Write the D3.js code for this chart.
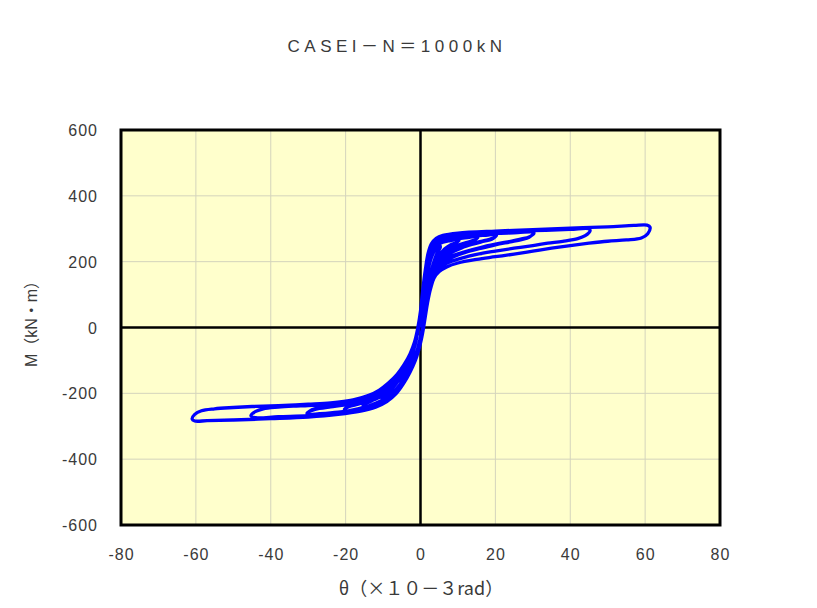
<!DOCTYPE html>
<html>
<head>
<meta charset="utf-8">
<script src="https://cdn.jsdelivr.net/npm/d3@7/dist/d3.min.js"></script>
<style>
  body { margin: 0; background: #fff; }
  svg { display: block; }
</style>
</head>
<body>
<svg id="chart" width="817" height="608"></svg>
<script>
// Moment–rotation hysteresis, one array per loading cycle: [θ (×10^-3 rad), M (kN·m)]
const cycle05 = [[0,0],[0.6,60],[1.2,115],[1.9,165],[2.7,205],[3.7,232],[5,250],
  [5.3,245],[4.6,228],[3.8,205],[2.9,170],[2.1,125],[1.4,75],[0.8,25],[0.4,-10],
  [-0.3,-45],[-1,-75],[-2,-105],[-3,-130],[-4,-153],[-5,-170],
  [-5.3,-162],[-4.6,-145],[-3.8,-127],[-2.8,-100],[-1.8,-66],[-1,-30],[-0.5,0]];
const cycle05b = [[0,40],[0.6,98],[1.3,150],[2,192],[2.9,222],[4,240],[5,248],
  [5.3,244],[4.6,230],[3.8,208],[2.9,173],[2.1,128],[1.4,78],[0.8,28],[0.4,-8],
  [-0.3,-43],[-1,-73],[-2,-103],[-3,-128],[-4,-150],[-5,-166],
  [-5.3,-160],[-4.6,-146],[-3.8,-129],[-2.8,-102],[-1.8,-68],[-1,-31],[-0.6,0]];
const cycle10 = [[0,45],[0.6,104],[1.3,160],[2,204],[2.9,234],[4.2,252],[6,261],[8,266],[10,271],
  [10.3,267],[9.4,256],[8,249],[6.5,236],[5,214],[3.8,184],[2.8,148],[1.9,100],[1.2,52],[0.7,10],[0.2,-25],
  [-0.5,-60],[-1.4,-92],[-2.8,-128],[-4.5,-160],[-6.5,-190],[-8.5,-210],[-10,-222],
  [-10.3,-217],[-9.3,-203],[-8,-188],[-6.5,-168],[-5,-142],[-3.6,-110],[-2.4,-78],[-1.4,-42],[-0.7,0]];
const cycle10b = [[0,44],[0.6,102],[1.3,158],[2,202],[2.9,232],[4.2,250],[6,259],[8,264],[10,268],
  [10.3,265],[9.4,257],[8,251],[6.5,239],[5,218],[3.8,188],[2.8,152],[1.9,104],[1.2,55],[0.7,12],[0.2,-23],
  [-0.5,-58],[-1.4,-90],[-2.8,-126],[-4.5,-158],[-6.5,-187],[-8.5,-207],[-10,-218],
  [-10.3,-214],[-9.3,-205],[-8,-191],[-6.5,-171],[-5,-146],[-3.6,-113],[-2.4,-80],[-1.4,-43],[-0.7,0]];
const cycle15 = [[0,46],[0.6,106],[1.3,164],[2,210],[2.9,240],[4.2,258],[6,266],[10,271],[13,276],[15,280],
  [15.3,276],[14.2,264],[12.5,257],[10,247],[8,236],[6,218],[4.5,196],[3.3,166],[2.4,126],[1.6,80],[1,35],[0.6,0],[0.1,-30],
  [-0.5,-62],[-1.4,-94],[-2.8,-130],[-4.5,-162],[-6.5,-192],[-9,-216],[-12,-233],[-15,-244],
  [-15.3,-238],[-14,-226],[-12.3,-217],[-10,-203],[-8,-185],[-6.2,-162],[-4.6,-136],[-3.2,-106],[-2,-72],[-1.2,-38],[-0.7,0]];
const cycle15b = [[0,45],[0.6,105],[1.3,162],[2,208],[2.9,238],[4.2,256],[6,264],[10,269],[13,274],[15,277],
  [15.3,274],[14.2,265],[12.5,259],[10,250],[8,239],[6,222],[4.5,200],[3.3,170],[2.4,130],[1.6,83],[1,37],[0.6,2],[0.1,-28],
  [-0.5,-60],[-1.4,-92],[-2.8,-128],[-4.5,-160],[-6.5,-189],[-9,-213],[-12,-230],[-15,-241],
  [-15.3,-236],[-14,-228],[-12.3,-219],[-10,-206],[-8,-188],[-6.2,-166],[-4.6,-139],[-3.2,-109],[-2,-74],[-1.2,-39],[-0.7,0]];
const cycle20 = [[0,47],[0.6,108],[1.3,167],[2,214],[2.9,244],[4.2,262],[6,270],[10,276],[15,281],[18,284],[20,286],
  [20.3,282],[19,268],[17,262],[14,253],[11,242],[8.5,229],[6.3,212],[4.6,190],[3.4,162],[2.5,124],[1.7,80],[1.1,36],[0.7,0],[0.1,-32],
  [-0.5,-64],[-1.4,-96],[-2.8,-132],[-4.5,-165],[-6.5,-195],[-9,-219],[-12,-236],[-16,-248],[-20,-256],
  [-20.3,-250],[-19,-238],[-17,-231],[-14,-220],[-11.5,-206],[-9,-187],[-7,-166],[-5.2,-142],[-3.7,-113],[-2.4,-78],[-1.4,-40],[-0.7,0]];
const cycle20b = [[0,46],[0.6,106],[1.3,165],[2,212],[2.9,242],[4.2,260],[6,268],[10,274],[15,279],[18,281],[20,283],
  [20.3,280],[19,270],[17,264],[14,256],[11,245],[8.5,232],[6.3,216],[4.6,194],[3.4,166],[2.5,128],[1.7,83],[1.1,38],[0.7,2],[0.1,-30],
  [-0.5,-62],[-1.4,-94],[-2.8,-130],[-4.5,-163],[-6.5,-192],[-9,-216],[-12,-233],[-16,-245],[-20,-253],
  [-20.3,-248],[-19,-240],[-17,-234],[-14,-223],[-11.5,-209],[-9,-191],[-7,-170],[-5.2,-146],[-3.7,-116],[-2.4,-80],[-1.4,-41],[-0.7,0]];
const cycle30 = [[0,48],[0.6,110],[1.3,170],[2,218],[2.9,248],[4.2,265],[6,273],[10,280],[15,285],[20,288],[26,291],[30,293],
  [30.3,288],[29,274],[27,267],[24,260],[20,251],[16,240],[12,228],[9,216],[6.6,202],[4.8,183],[3.5,156],[2.6,120],[1.8,76],[1.2,34],[0.8,0],[0.2,-34],
  [-0.5,-66],[-1.4,-98],[-2.8,-134],[-4.5,-167],[-6.5,-197],[-9,-221],[-12,-238],[-16,-250],[-22,-260],[-27,-265],[-30,-267],
  [-30.3,-262],[-29,-250],[-27,-243],[-24,-238],[-20,-232],[-16,-223],[-13,-211],[-10.5,-196],[-8,-174],[-6,-151],[-4.2,-121],[-2.7,-86],[-1.5,-45],[-0.7,0]];
const cycle30b = [[0,47],[0.6,108],[1.3,168],[2,216],[2.9,246],[4.2,263],[6,271],[10,278],[15,283],[20,286],[26,288],[30,290],
  [30.3,286],[29,275],[27,269],[24,262],[20,253],[16,243],[12,231],[9,220],[6.6,206],[4.8,187],[3.5,160],[2.6,124],[1.8,79],[1.2,36],[0.8,2],[0.2,-32],
  [-0.5,-64],[-1.4,-96],[-2.8,-132],[-4.5,-165],[-6.5,-194],[-9,-218],[-12,-235],[-16,-247],[-22,-257],[-27,-262],[-30,-264],
  [-30.3,-260],[-29,-252],[-27,-246],[-24,-241],[-20,-235],[-16,-226],[-13,-215],[-10.5,-200],[-8,-178],[-6,-155],[-4.2,-124],[-2.7,-88],[-1.5,-46],[-0.7,0]];
const cycle45 = [[0,49],[0.6,112],[1.3,173],[2,221],[2.9,251],[4.2,268],[6,276],[10,284],[20,290],[30,294],[40,298],[45,300],
  [45.3,294],[44,279],[42,270],[38,262],[34,256],[30,249],[25,241],[20,232],[15,222],[11,211],[8,200],[6,189],[4.5,175],[3.4,152],[2.6,118],[1.8,72],[1.2,30],[0.8,-2],[0.2,-36],
  [-0.5,-67],[-1.4,-99],[-2.8,-135],[-4.5,-169],[-6.5,-199],[-9,-223],[-12,-240],[-16,-252],[-22,-262],[-30,-268],[-38,-271],[-44,-274],
  [-45.3,-268],[-44,-255],[-42,-247],[-38,-242],[-34,-239],[-30,-237],[-26,-234],[-22,-229],[-18,-221],[-14,-208],[-11,-192],[-8.5,-171],[-6.3,-147],[-4.4,-117],[-2.8,-83],[-1.6,-46],[-0.7,0]];
const cycle60 = [[0,50],[0.6,114],[1.3,176],[2,224],[2.9,254],[4.2,271],[6,280],[10,287],[20,293],[30,297],[40,302],[50,306],[57,310],[60.5,311],
  [61.3,305],[60.7,285],[59,272],[55,266],[50,262],[45,256],[40,249],[35,241],[30,232],[25,223],[20,215],[15,207],[10,196],[7,184],[5,170],[3.6,150],[2.7,118],[1.9,76],[1.3,34],[0.8,-2],[0.2,-38],
  [-0.5,-70],[-1.4,-101],[-2.8,-136],[-4.5,-170],[-6.5,-201],[-9,-225],[-12,-242],[-16,-254],[-22,-264],[-30,-272],[-40,-277],[-50,-281],[-57,-283],[-60.3,-284],
  [-61,-278],[-60.3,-264],[-58.5,-253],[-55,-247],[-50,-243],[-45,-240],[-40,-238],[-35,-236],[-30,-233],[-24,-229],[-18,-220],[-14,-207],[-11,-190],[-8.5,-168],[-6.3,-143],[-4.4,-113],[-2.8,-80],[-1.6,-44],[-0.7,0]];

const xTicks = [-80, -60, -40, -20, 0, 20, 40, 60, 80];
const yTicks = [-600, -400, -200, 0, 200, 400, 600];

const titleText = "CASEI－N＝1000kN";
const xTitle = "θ（×１０－３rad）";
const yTitle = "M（kN・m）";

const svg = d3.select("#chart");
const plot = { left: 121, right: 720, top: 130, bottom: 525 };

const x = d3.scaleLinear().domain([-80, 80]).range([plot.left, plot.right]);
const y = d3.scaleLinear().domain([-600, 600]).range([plot.bottom, plot.top]);

// plot background
svg.append("rect")
  .attr("x", plot.left).attr("y", plot.top)
  .attr("width", plot.right - plot.left).attr("height", plot.bottom - plot.top)
  .attr("fill", "#ffffcc");

// grid lines
const grid = svg.append("g").attr("stroke", "#d4d4bc").attr("stroke-width", 1);
grid.selectAll("line.vx").data(xTicks.filter(d => d !== 0 && Math.abs(d) !== 80)).join("line")
  .attr("x1", d => x(d)).attr("x2", d => x(d))
  .attr("y1", plot.top).attr("y2", plot.bottom);
grid.selectAll("line.hy").data(yTicks.filter(d => d !== 0 && Math.abs(d) !== 600)).join("line")
  .attr("x1", plot.left).attr("x2", plot.right)
  .attr("y1", d => y(d)).attr("y2", d => y(d));

// zero axes
svg.append("line").attr("x1", x(0)).attr("x2", x(0)).attr("y1", plot.top).attr("y2", plot.bottom)
  .attr("stroke", "#000").attr("stroke-width", 2.5);
svg.append("line").attr("x1", plot.left).attr("x2", plot.right).attr("y1", y(0)).attr("y2", y(0))
  .attr("stroke", "#000").attr("stroke-width", 2.5);

// hysteresis path
const cycles = [cycle05, cycle05b, cycle10, cycle10b, cycle15, cycle15b, cycle20, cycle20b, cycle30, cycle30b, cycle45, cycle60];
const allPoints = [].concat(...cycles);
const line = d3.line().x(d => x(d[0])).y(d => y(d[1])).curve(d3.curveCatmullRom.alpha(0.5));
svg.append("path")
  .attr("d", line(allPoints))
  .attr("fill", "none")
  .attr("stroke", "#0000ff")
  .attr("stroke-width", 3.3)
  .attr("stroke-linejoin", "round");

// frame
svg.append("rect")
  .attr("x", plot.left).attr("y", plot.top)
  .attr("width", plot.right - plot.left).attr("height", plot.bottom - plot.top)
  .attr("fill", "none").attr("stroke", "#000").attr("stroke-width", 3);

// axes (labels only)
const xAxis = d3.axisBottom(x).tickValues(xTicks).tickSize(0).tickPadding(0).tickFormat(d3.format("d"));
const gx = svg.append("g").attr("transform", `translate(0,${plot.bottom + 24})`).call(xAxis);
const yAxis = d3.axisLeft(y).tickValues(yTicks).tickSize(0).tickPadding(0).tickFormat(d3.format("d"));
const gy = svg.append("g").attr("transform", `translate(${plot.left - 23},0)`).call(yAxis);
[gx, gy].forEach(g => {
  g.select(".domain").remove();
  g.selectAll("text")
    .attr("font-family", "'Liberation Sans', Arial, sans-serif")
    .attr("font-size", 16)
    .attr("letter-spacing", 1)
    .attr("fill", "#3a3a3a")
    .text(d => String(d).replace("\u2212", "-"));
});
gy.selectAll("text").attr("dy", "0.35em");

// titles
svg.append("text").attr("x", 397).attr("y", 52).attr("text-anchor", "middle")
  .attr("font-family", "'Liberation Sans', 'Noto Sans CJK JP', sans-serif")
  .attr("font-size", 17).attr("letter-spacing", 4.5).attr("fill", "#3a3a3a")
  .text(titleText);
svg.append("text").attr("x", 421).attr("y", 595).attr("text-anchor", "middle")
  .attr("font-family", "'Noto Sans CJK JP', sans-serif").attr("font-size", 18).attr("fill", "#3a3a3a")
  .text(xTitle);
svg.append("text").attr("transform", "translate(37,320) rotate(-90)").attr("text-anchor", "middle")
  .attr("font-family", "'Liberation Sans', 'Noto Sans CJK JP', sans-serif").attr("font-size", 16).attr("fill", "#3a3a3a")
  .text(yTitle);
</script>
</body>
</html>
